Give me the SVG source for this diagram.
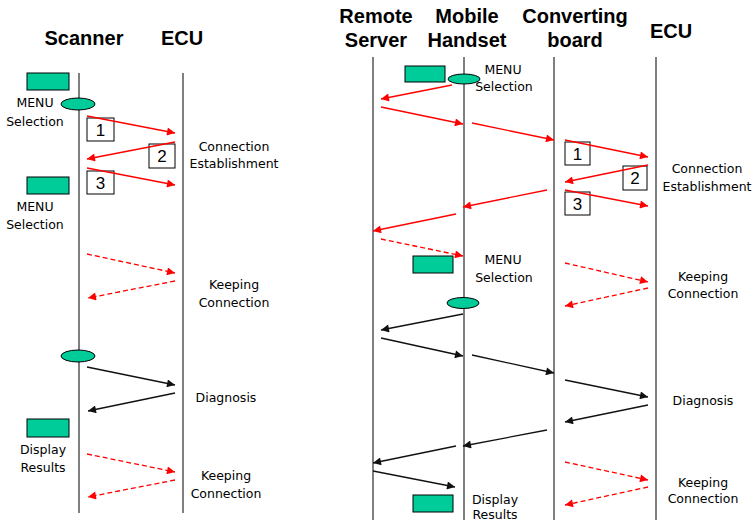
<svg xmlns="http://www.w3.org/2000/svg" width="753" height="522" viewBox="0 0 753 522">
<defs>
<marker id="ar" viewBox="0 0 10 10" refX="10" refY="5" markerWidth="10" markerHeight="8" markerUnits="userSpaceOnUse" orient="auto"><path d="M0,0 L10,5 L0,10 z" fill="#ff0000"/></marker>
<marker id="ak" viewBox="0 0 10 10" refX="10" refY="5" markerWidth="10" markerHeight="8" markerUnits="userSpaceOnUse" orient="auto"><path d="M0,0 L10,5 L0,10 z" fill="#111"/></marker>
</defs>
<style>
.h{font-family:"Liberation Sans",Arial,sans-serif;font-weight:bold;font-size:20px;fill:#000;text-anchor:middle}
.t{font-family:"DejaVu Sans","Liberation Sans",sans-serif;font-size:12.5px;fill:#000;text-anchor:middle}
.n{font-family:"Liberation Sans",Arial,sans-serif;font-size:17px;fill:#000;text-anchor:middle}
.life{stroke:#555;stroke-width:1.5;fill:none}
.g{fill:#00cc99;stroke:#000;stroke-width:1}
.box{fill:#fff;stroke:#000;stroke-width:1}
.r{stroke:#ff0000;stroke-width:1.3;fill:none;marker-end:url(#ar)}
.rd{stroke:#ff0000;stroke-width:1.3;fill:none;stroke-dasharray:5,3;marker-end:url(#ar)}
.k{stroke:#111;stroke-width:1.3;fill:none;marker-end:url(#ak)}
</style>
<rect width="753" height="522" fill="#fff"/>
<g id="headers">
<text class="h" x="84" y="45">Scanner</text>
<text class="h" x="182" y="45">ECU</text>
<text class="h" x="376" y="23">Remote</text>
<text class="h" x="376" y="47">Server</text>
<text class="h" x="467" y="23">Mobile</text>
<text class="h" x="467" y="47">Handset</text>
<text class="h" x="575" y="23">Converting</text>
<text class="h" x="575" y="47">board</text>
<text class="h" x="671" y="38">ECU</text>
</g>
<g id="lifelines">
<line class="life" x1="79" y1="73" x2="79" y2="513"/>
<line class="life" x1="183" y1="73" x2="183" y2="513"/>
<line class="life" x1="373" y1="57" x2="373" y2="520"/>
<line class="life" x1="464" y1="57" x2="464" y2="520"/>
<line class="life" x1="554" y1="57" x2="554" y2="520"/>
<line class="life" x1="656" y1="57" x2="656" y2="520"/>
</g>
<g id="left-nodes">
<rect class="g" x="27" y="73" width="42" height="17"/>
<ellipse class="g" cx="78" cy="104" rx="17" ry="6"/>
<text class="t" x="35" y="107">MENU</text>
<text class="t" x="35" y="126">Selection</text>
<rect class="g" x="27" y="177" width="42" height="17"/>
<text class="t" x="35" y="211">MENU</text>
<text class="t" x="35" y="229">Selection</text>
<ellipse class="g" cx="78" cy="356" rx="17" ry="6"/>
<rect class="g" x="27" y="419" width="42" height="18"/>
<text class="t" x="43" y="454">Display</text>
<text class="t" x="43" y="472">Results</text>
<rect class="box" x="87" y="118" width="27" height="23"/>
<text class="n" x="100.5" y="136">1</text>
<rect class="box" x="149" y="144" width="26" height="24"/>
<text class="n" x="162" y="162">2</text>
<rect class="box" x="87" y="171" width="27" height="23"/>
<text class="n" x="100.5" y="189">3</text>
<text class="t" x="234" y="151">Connection</text>
<text class="t" x="234" y="168">Establishment</text>
<text class="t" x="234" y="289">Keeping</text>
<text class="t" x="234" y="307">Connection</text>
<text class="t" x="226" y="402">Diagnosis</text>
<text class="t" x="226" y="480">Keeping</text>
<text class="t" x="226" y="498">Connection</text>
</g>
<g id="right-nodes">
<rect class="g" x="405" y="66" width="40" height="16"/>
<ellipse class="g" cx="464" cy="79" rx="16" ry="5"/>
<text class="t" x="503" y="74">MENU</text>
<text class="t" x="504" y="91">Selection</text>
<rect class="box" x="565" y="142" width="25" height="23"/>
<text class="n" x="577.5" y="160">1</text>
<rect class="box" x="623" y="166" width="24" height="24"/>
<text class="n" x="635" y="184">2</text>
<rect class="box" x="565" y="192" width="25" height="23"/>
<text class="n" x="577.5" y="210">3</text>
<text class="t" x="707" y="173">Connection</text>
<text class="t" x="707" y="191">Establishment</text>
<rect class="g" x="413" y="256" width="40" height="17"/>
<text class="t" x="503" y="264">MENU</text>
<text class="t" x="504" y="282">Selection</text>
<text class="t" x="703" y="281">Keeping</text>
<text class="t" x="703" y="298">Connection</text>
<ellipse class="g" cx="463" cy="303" rx="16" ry="5.5"/>
<text class="t" x="703" y="405">Diagnosis</text>
<text class="t" x="703" y="487">Keeping</text>
<text class="t" x="703" y="503">Connection</text>
<rect class="g" x="413" y="495" width="40" height="17"/>
<text class="t" x="495" y="504">Display</text>
<text class="t" x="495" y="519">Results</text>
</g>
<g id="connectors">
<line class="r" x1="87" y1="116" x2="175" y2="133"/>
<line class="r" x1="175" y1="142" x2="87" y2="159"/>
<line class="r" x1="87" y1="168" x2="175" y2="185"/>
<line class="rd" x1="87" y1="254" x2="175" y2="273"/>
<line class="rd" x1="175" y1="281" x2="88" y2="298"/>
<line class="k" x1="87" y1="367" x2="175" y2="385"/>
<line class="k" x1="175" y1="393" x2="88" y2="411"/>
<line class="rd" x1="87" y1="454" x2="175" y2="472"/>
<line class="rd" x1="175" y1="480" x2="88" y2="497"/>
<line class="r" x1="452" y1="85" x2="381" y2="99"/>
<line class="r" x1="381" y1="107" x2="463" y2="124"/>
<line class="r" x1="472" y1="123" x2="554" y2="140"/>
<line class="r" x1="565" y1="140" x2="648" y2="157"/>
<line class="r" x1="648" y1="165" x2="565" y2="182"/>
<line class="r" x1="565" y1="190" x2="648" y2="206"/>
<line class="r" x1="547" y1="190" x2="463" y2="207"/>
<line class="r" x1="456" y1="214" x2="373" y2="231"/>
<line class="rd" x1="381" y1="239" x2="463" y2="256"/>
<line class="rd" x1="565" y1="263" x2="648" y2="282"/>
<line class="rd" x1="648" y1="288" x2="565" y2="306"/>
<line class="k" x1="463" y1="314" x2="381" y2="330"/>
<line class="k" x1="381" y1="338" x2="463" y2="356"/>
<line class="k" x1="472" y1="355" x2="554" y2="373"/>
<line class="k" x1="565" y1="380" x2="648" y2="397"/>
<line class="k" x1="648" y1="405" x2="565" y2="422"/>
<line class="k" x1="547" y1="430" x2="463" y2="446"/>
<line class="k" x1="456" y1="446" x2="373" y2="463"/>
<line class="k" x1="373" y1="471" x2="455" y2="487"/>
<line class="rd" x1="565" y1="462" x2="648" y2="480"/>
<line class="rd" x1="648" y1="487" x2="565" y2="505"/>
</g>
</svg>
